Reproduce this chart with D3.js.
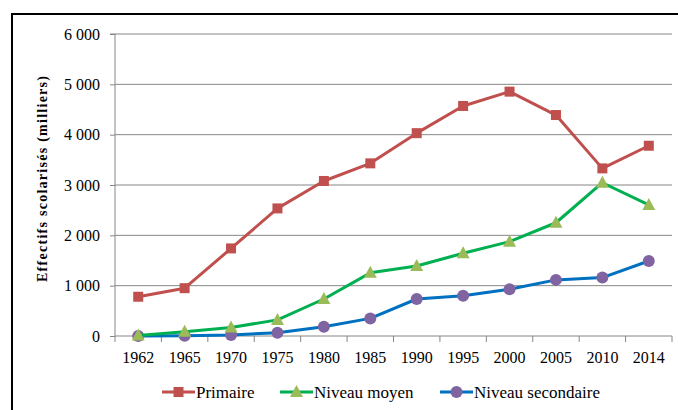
<!DOCTYPE html>
<html><head><meta charset="utf-8">
<script src="https://cdn.jsdelivr.net/npm/d3@7"></script>
<style>html,body{margin:0;padding:0;background:#fff;}svg{display:block;}</style>
</head><body>
<svg id="c" width="678" height="410"></svg>
<script>
const years = ["1962","1965","1970","1975","1980","1985","1990","1995","2000","2005","2010","2014"];
const primaire = [780, 950, 1740, 2535, 3080, 3430, 4030, 4570, 4855, 4390, 3330, 3780];
const moyen = [10, 85, 170, 320, 735, 1255, 1390, 1645, 1875, 2250, 3045, 2605];
const secondaire = [0, 5, 20, 65, 185, 350, 735, 800, 930, 1115, 1160, 1490];
const yTicks = [0, 1000, 2000, 3000, 4000, 5000, 6000];
const seriesNames = ["Primaire", "Niveau moyen", "Niveau secondaire"];

const FONT = '"Liberation Serif", "Times New Roman", serif';
const svg = d3.select("#c");
const L = 115, R = 672, T = 34, B = 336;

// frame
svg.append("rect").attr("x",12).attr("y",14).attr("width",700).attr("height",420)
  .attr("fill","none").attr("stroke","#000").attr("stroke-width",2);

const x = d3.scaleBand().domain(years).range([L, R]);
const y = d3.scaleLinear().domain([0, 6000]).range([B, T]);

// gridlines
svg.append("g").selectAll("line").data(yTicks.filter(d=>d>0)).join("line")
  .attr("x1",L).attr("x2",R).attr("y1",d=>y(d)).attr("y2",d=>y(d))
  .attr("stroke","#868686").attr("stroke-width",1);

// y axis
const ya = svg.append("g").attr("transform",`translate(${L},0)`)
  .call(d3.axisLeft(y).tickValues(yTicks).tickSize(5).tickPadding(4)
    .tickFormat(d=>d3.format(",")(d).replace(/,/g," ")));
ya.attr("font-family",null).attr("font-size",null);
ya.select(".domain").attr("stroke","#868686").attr("d",`M-5,${T}H0V${B}`);
ya.selectAll(".tick line").attr("stroke","#868686");
ya.selectAll("text").style("font-family",FONT).style("font-size","16px").attr("fill","#000").attr("x",-15);

// x axis
const xa = svg.append("g").attr("transform",`translate(0,${B})`);
xa.append("line").attr("x1",L).attr("x2",R).attr("stroke","#868686");
const bounds = years.map(d=>x(d)).concat([R]);
xa.selectAll("line.t").data(bounds).join("line").attr("class","t")
  .attr("x1",d=>d).attr("x2",d=>d).attr("y1",0).attr("y2",6).attr("stroke","#868686");
xa.selectAll("text").data(years).join("text")
  .attr("x",d=>x(d)+x.bandwidth()/2).attr("y",27).attr("text-anchor","middle")
  .style("font-family",FONT).style("font-size","16px").text(d=>d);

// y title
svg.append("text").attr("transform","translate(47,179) rotate(-90)")
  .attr("text-anchor","middle").style("font-family",FONT).style("font-size","14px")
  .style("font-weight","bold").attr("textLength",206).attr("lengthAdjust","spacing")
  .text("Effectifs scolarisés (milliers)");

const cx = d => x(d) + x.bandwidth()/2;
const series = [
  {name: seriesNames[0], vals: primaire, line:"#C0504D", fill:"#C0504D", shape:"square"},
  {name: seriesNames[1], vals: moyen, line:"#00B050", fill:"#9BBB59", shape:"triangle"},
  {name: seriesNames[2], vals: secondaire, line:"#0070C0", fill:"#8064A2", shape:"circle"}
];
function marker(g, s, px, py){
  if(s.shape==="square") g.append("rect").attr("x",px-5).attr("y",py-5).attr("width",10).attr("height",10).attr("fill",s.fill);
  else if(s.shape==="triangle") g.append("path").attr("d",`M${px},${py-7}L${px+6.5},${py+5}L${px-6.5},${py+5}Z`).attr("fill",s.fill);
  else g.append("circle").attr("cx",px).attr("cy",py).attr("r",6).attr("fill",s.fill);
}
const line = d3.line().x((d,i)=>cx(years[i])).y(d=>y(d));
[...series].reverse().forEach(s=>{
  const g = svg.append("g");
  g.append("path").attr("d",line(s.vals)).attr("fill","none").attr("stroke",s.line).attr("stroke-width",3).attr("stroke-linejoin","round");
  s.vals.forEach((v,i)=>marker(g,s,cx(years[i]),y(v)));
});

// legend
const legX = [162, 280, 440];
series.forEach((s,i)=>{
  const g = svg.append("g");
  const ly = 392;
  g.append("line").attr("x1",legX[i]).attr("x2",legX[i]+33).attr("y1",ly).attr("y2",ly).attr("stroke",s.line).attr("stroke-width",3);
  marker(g,s,legX[i]+16.5,ly);
  g.append("text").attr("x",legX[i]+34).attr("y",ly+6).style("font-family",FONT).style("font-size","17px").text(s.name);
});
</script>
</body></html>
